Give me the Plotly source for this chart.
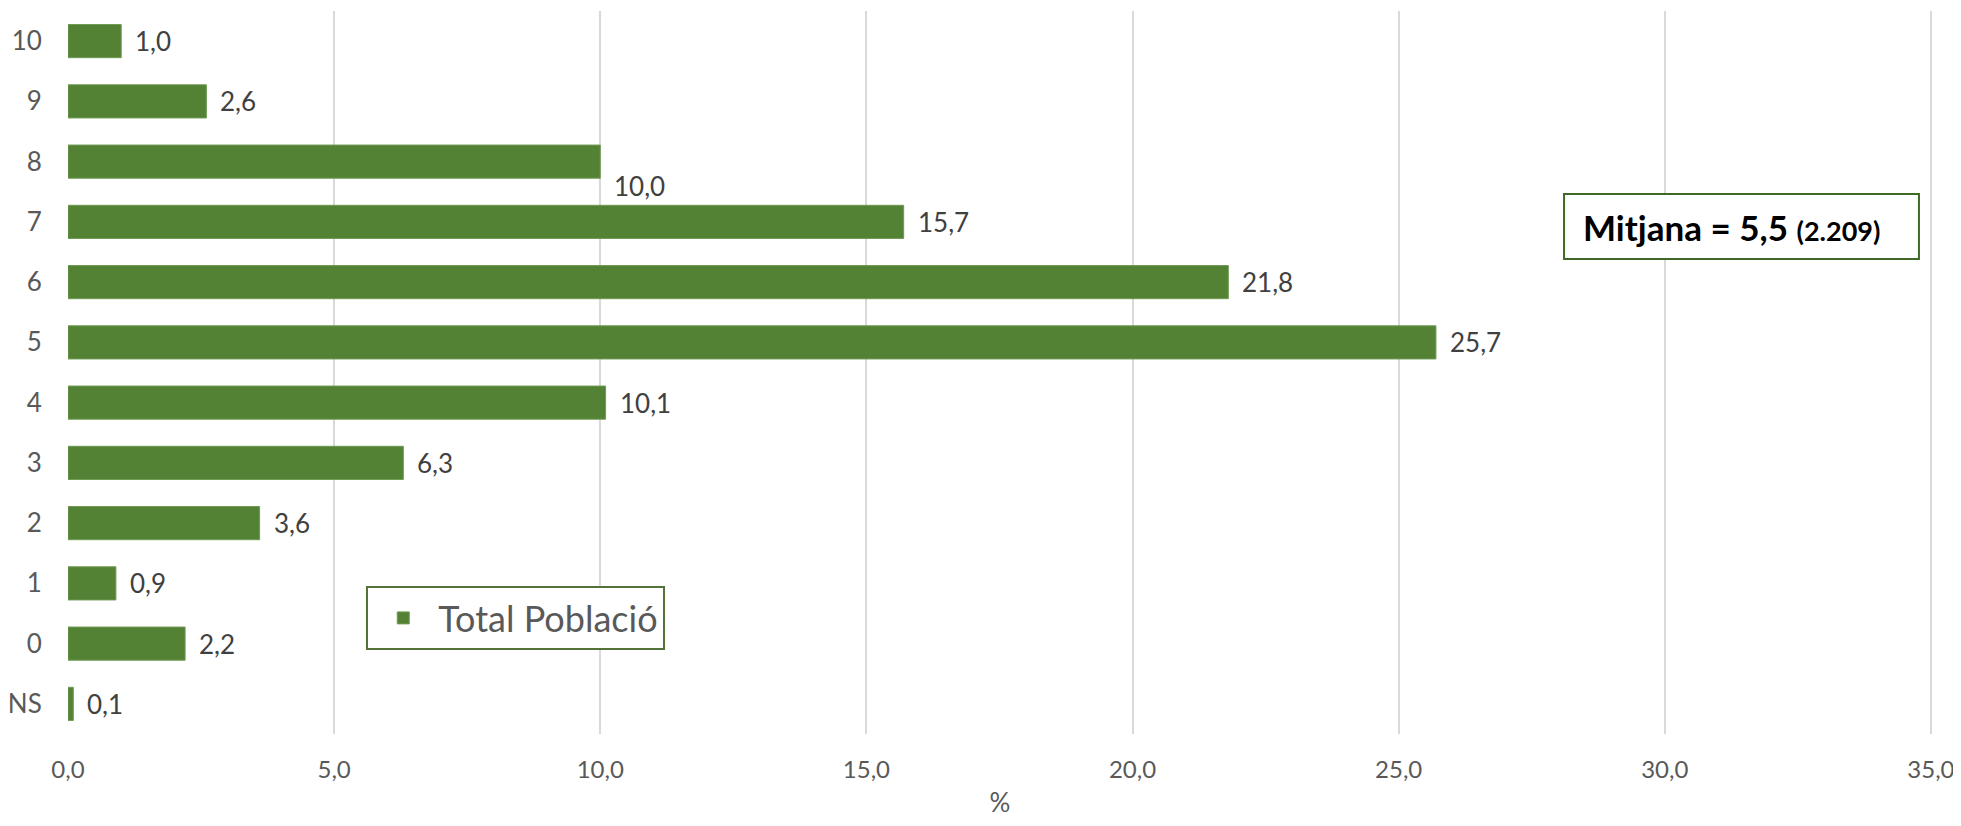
import plotly.graph_objects as go

categories = ["NS", "0", "1", "2", "3", "4", "5", "6", "7", "8", "9", "10"]
values = [0.1, 2.2, 0.9, 3.6, 6.3, 10.1, 25.7, 21.8, 15.7, 10.0, 2.6, 1.0]
series_name = "Total Població"
x_ticks = [0, 5, 10, 15, 20, 25, 30, 35]
mean_text = "<b>Mitjana = 5,5 <span style='font-size:27px'>(2.209)</span></b>"

BAR = "#548235"
FONT = "Lato"

fig = go.Figure()
fig.add_trace(go.Bar(
    x=values, y=categories, orientation="h", name=series_name,
    marker=dict(color=BAR, line=dict(color="#6f9a52", width=1)),
    showlegend=True,
))

# data labels (category axis: annotation y given as category index)
label_yshift = {"8": -24}
for i, (c, v) in enumerate(zip(categories, values)):
    fig.add_annotation(
        x=v, y=i, xref="x", yref="y", text=f"{v:.1f}".replace(".", ","),
        showarrow=False, xanchor="left", yanchor="middle",
        xshift=12, yshift=label_yshift.get(c, 0),
        font=dict(family=FONT, size=26, color="#404040"),
    )

# Mitjana box
fig.add_shape(type="rect", xref="paper", yref="paper",
              x0=0.8026, x1=0.9930, y0=0.6570, y1=0.7469,
              line=dict(color="#3f6a26", width=2), fillcolor="white", layer="above")
fig.add_annotation(
    x=0.8115, y=0.7019, xref="paper", yref="paper", text=mean_text,
    showarrow=False, xanchor="left", yanchor="middle",
    font=dict(family=FONT, size=35, color="black"),
)

# page body has an 8px default margin: size/margins compensate for it
fig.update_layout(
    width=1953, height=810,
    margin=dict(l=60, r=29, t=3, b=84, autoexpand=False),
    paper_bgcolor="white", plot_bgcolor="white",
    separators=", ",
    bargap=0.45,
    font=dict(family=FONT, color="#595959"),
    showlegend=True,
    legend=dict(
        x=0.160, y=0.2047, xanchor="left", yanchor="top",
        bordercolor="#54733b", borderwidth=2, bgcolor="white",
        font=dict(family=FONT, size=36, color="#595959"),
        itemwidth=60,
    ),
    xaxis=dict(
        range=[0, 35.02], tickvals=x_ticks, tickformat=".1f", automargin=False,
        ticklabeloverflow="allow",
        showgrid=True, gridcolor="#d9d9d9", gridwidth=1.5,
        zeroline=False, showline=False,
        ticks="outside", ticklen=14, tickcolor="rgba(0,0,0,0)",
        tickfont=dict(family=FONT, size=24, color="#595959"),
        title=dict(text="%", font=dict(family=FONT, size=26, color="#595959"), standoff=26),
    ),
    yaxis=dict(
        type="category", categoryorder="array", categoryarray=categories,
        automargin=False,
        showgrid=False, zeroline=False, showline=False,
        ticks="outside", ticklen=20, tickcolor="rgba(0,0,0,0)",
        tickfont=dict(family=FONT, size=26, color="#595959"),
    ),
)

fig.write_html("out.html")
